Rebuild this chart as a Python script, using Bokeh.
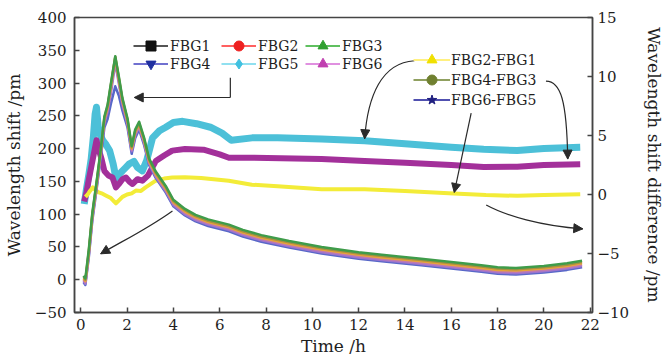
import math
from bokeh.plotting import figure
from bokeh.models import (Range1d, LinearAxis, Legend, LegendItem, Arrow,
                          NormalHead, FixedTicker)
from bokeh.embed import file_html
from bokeh.resources import INLINE

# ---------------- data ----------------
time_main = [0.12, 0.2, 0.35, 0.5, 0.7, 0.87, 1.02, 1.16, 1.3, 1.49, 1.65, 1.8,
             2.02, 2.2, 2.35, 2.52, 2.74, 2.95, 3.24, 3.67, 4.0, 4.5, 4.96, 5.5,
             6.4, 7.0, 7.8, 9.0, 10.4, 12.0, 13.0, 14.7, 16.0, 17.3, 18.0, 18.8,
             20.0, 21.0, 21.65]
fbg1 = [4, 0, 44, 100, 152, 199, 247, 265, 297, 340, 307, 275, 244, 202, 227, 239,
        214, 183, 163, 141, 120, 106, 97, 90, 82, 74, 66, 57, 48, 40, 36, 30, 25,
        20, 17, 16, 19, 23, 27]
fbg2 = [2, -2, 42, 98, 150, 197, 245, 263, 295, 339, 305, 273, 242, 200, 225, 237,
        212, 181, 161, 139, 118, 104, 95, 88, 80, 72, 64, 55, 46, 38, 34, 28, 23,
        18, 15, 14, 17, 21, 25]
fbg3 = [6, 2, 47, 102, 154, 201, 249, 267, 299, 341, 309, 277, 246, 204, 229, 241,
        216, 185, 165, 143, 122, 108, 99, 92, 84, 76, 68, 59, 50, 42, 38, 32, 27,
        22, 19, 18, 21, 25, 29]
fbg4 = [-4, -8, 35, 90, 142, 188, 232, 245, 268, 295, 280, 258, 232, 192, 216, 229,
        205, 175, 155, 133, 112, 98, 89, 82, 74, 66, 58, 49, 40, 32, 28, 22, 17,
        12, 9, 8, 11, 15, 19]
fbg5 = [0, -4, 40, 96, 148, 195, 243, 260, 290, 336, 302, 270, 240, 198, 222, 235,
        210, 179, 159, 137, 116, 102, 93, 86, 78, 70, 62, 53, 44, 36, 32, 26, 21,
        16, 13, 12, 15, 19, 23]
fbg6 = [-2, -6, 38, 94, 146, 193, 240, 256, 284, 330, 298, 267, 237, 196, 220, 233,
        208, 177, 157, 135, 114, 100, 91, 84, 76, 68, 60, 51, 42, 34, 30, 24, 19,
        14, 11, 10, 13, 17, 21]

time_d21 = [0.15, 0.25, 0.35, 0.45, 0.55, 0.62, 0.68, 0.75, 0.85, 0.95, 1.1, 1.25,
            1.4, 1.52, 1.66, 1.8, 1.95, 2.1, 2.3, 2.45, 2.66, 2.85, 3.1, 3.4, 3.67,
            4.0, 4.4, 5.0, 5.6, 6.1, 6.5, 7.4, 8.5, 10.4, 12.26, 14.0, 16.0, 17.4,
            18.85, 20.0, 21.57]
fbg2_fbg1 = [-0.8, 0.5, 1.7, 3.0, 5.0, 6.8, 7.4, 5.8, 5.0, 4.6, 4.2, 3.7, 2.6, 1.4,
             1.7, 2.0, 2.3, 2.6, 2.8, 2.3, 2.0, 2.9, 4.8, 5.4, 5.7, 6.1, 6.2, 6.0,
             5.7, 5.2, 4.6, 4.8, 4.8, 4.7, 4.56, 4.3, 4.0, 3.83, 3.72, 3.9, 4.0]

time_d43 = [0.15, 0.25, 0.35, 0.5, 0.62, 0.68, 0.78, 0.9, 1.02, 1.2, 1.37, 1.52, 1.65,
            1.8, 1.95, 2.1, 2.24, 2.45, 2.66, 2.9, 3.24, 3.6, 3.95, 4.5, 5.3, 6.0,
            6.4, 7.4, 10.4, 12.26, 14.0, 16.0, 17.4, 18.85, 20.0, 21.57]
fbg4_fbg3 = [-0.6, 0.2, 1.3, 2.8, 4.0, 4.6, 3.8, 3.0, 2.0, 1.6, 1.44, 0.6, 0.9, 1.3,
             1.44, 1.1, 0.89, 1.3, 1.17, 1.6, 2.83, 3.3, 3.72, 3.85, 3.8, 3.4, 3.11,
             3.11, 3.0, 2.83, 2.7, 2.5, 2.33, 2.35, 2.5, 2.56]

time_d65 = [0.2, 0.3, 0.4, 0.52, 0.62, 0.75, 0.9, 1.1, 1.3, 1.52, 1.65, 1.8, 2.0, 2.2,
            2.38, 2.6, 2.8, 3.24, 3.6, 3.95, 4.5, 5.2, 6.39, 7.39, 8.5, 10.4, 12.26,
            14.0, 16.1, 17.5, 18.85, 20.0, 21.57]
fbg6_fbg5 = [-0.2, 0.0, 0.3, 0.6, 0.4, 0.2, 0.1, -0.1, -0.3, -0.75, -0.5, -0.2, 0.0,
             0.1, 0.33, 0.3, 0.6, 1.17, 1.35, 1.44, 1.46, 1.4, 1.17, 0.83, 0.7, 0.44,
             0.44, 0.3, 0.08, -0.05, -0.11, -0.05, 0.03]

x_ticks = [0, 2, 4, 6, 8, 10, 12, 14, 16, 18, 20, 22]
y_ticks = [-50, 0, 50, 100, 150, 200, 250, 300, 350, 400]
y2_ticks = [-10, -5, 0, 5, 10, 15]

FONT = "DejaVu Serif"
TXT = "#1e1e1e"
NAN = float("nan")

p = figure(width=672, height=358, output_backend="svg", toolbar_location=None,
           x_range=Range1d(-0.27, 22.1), y_range=Range1d(-50, 400),
           min_border_left=72, min_border_right=80, min_border_top=17,
           min_border_bottom=46)
p.extra_y_ranges = {"diff": Range1d(-10, 15)}
p.xgrid.grid_line_color = None
p.ygrid.grid_line_color = None
p.outline_line_color = "#444444"
p.outline_line_width = 1.5
p.background_fill_color = "white"
p.border_fill_color = "white"

right = LinearAxis(y_range_name="diff")
p.add_layout(right, "right")

p.xaxis.axis_label = "Time /h"
p.yaxis[0].axis_label = "Wavelength shift /pm"
right.axis_label = "Wavelength shift difference /pm"
p.xaxis.ticker = FixedTicker(ticks=x_ticks)
p.yaxis[0].ticker = FixedTicker(ticks=y_ticks)
right.ticker = FixedTicker(ticks=y2_ticks)
p.yaxis[0].major_label_overrides = {-50: "\u221250"}
right.major_label_overrides = {-10: "\u221210", -5: "\u22125"}

for ax in [p.xaxis[0], p.yaxis[0], right]:
    ax.axis_line_color = "#444444"
    ax.axis_line_width = 1.5
    ax.major_tick_line_color = "#444444"
    ax.major_tick_line_width = 1.5
    ax.major_tick_in = 5
    ax.major_tick_out = 0
    ax.minor_tick_line_color = None
    ax.major_label_text_font = FONT
    ax.major_label_text_font_size = "15px"
    ax.major_label_text_color = TXT
    ax.axis_label_text_font = FONT
    ax.axis_label_text_font_size = "17px"
    ax.axis_label_text_font_style = "normal"
    ax.axis_label_text_color = TXT
p.xaxis.major_label_standoff = 6
p.xaxis.axis_label_standoff = 3
p.yaxis[0].major_label_standoff = 8
p.yaxis[0].axis_label_standoff = 8
right.major_label_standoff = 5
right.axis_label_standoff = 12

# ---------------- difference curves (right axis) ----------------
p.line(time_d21, fbg2_fbg1, y_range_name="diff", line_color="#4cc0d8",
       line_width=7, line_join="round")
p.line(time_d43, fbg4_fbg3, y_range_name="diff", line_color="#a3309a",
       line_width=6, line_join="round")
p.line(time_d65, fbg6_fbg5, y_range_name="diff", line_color="#f3ec38",
       line_width=4, line_join="round")

# ---------------- main curves (left axis) ----------------
for vals, col in [(fbg4, "#5868c8"), (fbg6, "#9a74d0"), (fbg5, "#c07ab0"),
                  (fbg2, "#e8a33a"), (fbg1, "#a89040"), (fbg3, "#3f9c4a")]:
    p.line(time_main, vals, line_color=col, line_width=2.5, line_join="round")

# ---------------- arrows ----------------
AC = "#2a2a2a"
def head():
    return NormalHead(size=9, fill_color=AC, line_color=AC, line_width=1)

# elbow arrow from FBG5 legend to the main curves
p.line([6.46, 6.46], [308, 278], line_color=AC, line_width=1.2)
p.add_layout(Arrow(end=head(), x_start=6.46, y_start=278, x_end=2.31, y_end=278,
                   line_color=AC, line_width=1.2))
# straight arrow FBG6-FBG5 -> yellow curve
p.add_layout(Arrow(end=head(), x_start=16.86, y_start=254, x_end=16.13, y_end=133,
                   line_color=AC, line_width=1.2))

curves = [
    # (x0,y0, cx0,cy0, cx1,cy1, x1,y1)
    (14.41, 334, 12.99, 331, 12.39, 280, 12.26, 215),
    (20.09, 303, 20.73, 303, 20.99, 273, 21.03, 184),
    (17.51, 114, 18.37, 97.5, 19.87, 82.2, 21.68, 77.6),
    (3.96, 105, 2.88, 77.6, 1.81, 59.3, 0.86, 39.5),
]
for (x0, y0, cx0, cy0, cx1, cy1, x1, y1) in curves:
    p.bezier(x0=[x0], y0=[y0], cx0=[cx0], cy0=[cy0], cx1=[cx1], cy1=[cy1],
             x1=[x1], y1=[y1], line_color=AC, line_width=1.2)
    f = 0.12
    p.add_layout(Arrow(end=head(), x_start=x1 - f * (x1 - cx1),
                       y_start=y1 - f * (y1 - cy1), x_end=x1, y_end=y1,
                       line_color=AC, line_width=1.2))

# ---------------- legends (one small legend per entry) ----------------
def add_entry(label, lcol, marker, mcol, loc, gw, standoff):
    lr = p.line(x=[NAN], y=[NAN], line_color=lcol, line_width=2)
    sr = p.scatter(x=[NAN], y=[NAN], marker=marker, fill_color=mcol,
                   line_color=mcol)
    lg = Legend(items=[LegendItem(label=label, renderers=[lr, sr])],
                location=loc, orientation="vertical",
                glyph_width=gw, glyph_height=25, label_standoff=standoff,
                spacing=0, padding=0, margin=0, border_line_alpha=0,
                background_fill_alpha=0, label_text_font=FONT,
                label_text_font_size="14px", label_text_color=TXT,
                label_height=14)
    p.add_layout(lg, "center")

add_entry("FBG1", "#555555", "square", "#111111", (59, 254), 35, 2)
add_entry("FBG2", "#ff6060", "circle", "#ee2020", (147, 254), 35, 2)
add_entry("FBG3", "#60c060", "triangle", "#30a030", (231, 254), 35, 2)
add_entry("FBG4", "#7070d0", "inverted_triangle", "#2030a0", (59, 236), 35, 2)
add_entry("FBG5", "#90e0f0", "diamond", "#40c0e0", (147, 236), 35, 2)
add_entry("FBG6", "#e090e0", "triangle", "#c040b0", (231, 236), 35, 2)
add_entry("FBG2-FBG1", "#fff080", "triangle", "#f0e000", (339, 240), 37, 1)
add_entry("FBG4-FBG3", "#90a060", "circle", "#708030", (339, 220), 37, 1)
add_entry("FBG6-FBG5", "#5050b0", "star", "#202080", (339, 200), 37, 1)

open("out.html", "w").write(file_html(p, INLINE))
